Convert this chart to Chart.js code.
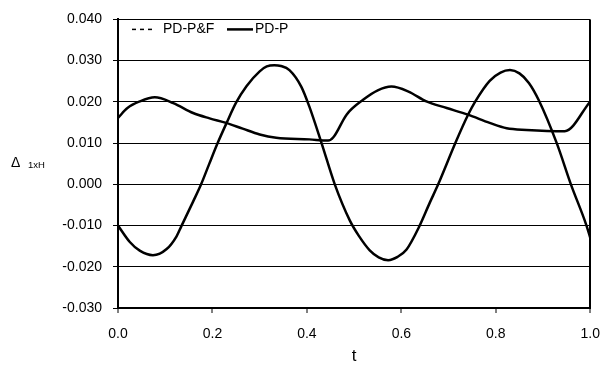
<!DOCTYPE html>
<html>
<head>
<meta charset="utf-8">
<script src="https://cdn.jsdelivr.net/npm/chart.js@4/dist/chart.umd.min.js"></script>
<style>
  html, body { margin: 0; padding: 0; background: #fff; }
  #wrap { position: relative; width: 613px; height: 370px; }
</style>
</head>
<body>
<div id="wrap"><canvas id="c" width="613" height="370"></canvas></div>
<script>
// ---- data ----
const legendLabels = ['PD-P&F', 'PD-P'];
const xTickLabels = ['0.0', '0.2', '0.4', '0.6', '0.8', '1.0'];
const yTickLabels = ['-0.030', '-0.020', '-0.010', '0.000', '0.010', '0.020', '0.030', '0.040'];

// Oscillating curve
const tA = [0.000, 0.025, 0.046, 0.074, 0.103, 0.124, 0.134, 0.159, 0.176, 0.193, 0.211, 0.230, 0.250, 0.272, 0.300, 0.315, 0.331, 0.345, 0.363, 0.388, 0.405, 0.431, 0.459, 0.491, 0.510, 0.533, 0.552, 0.572, 0.592, 0.611, 0.638, 0.660, 0.678, 0.715, 0.741, 0.756, 0.787, 0.810, 0.830, 0.850, 0.870, 0.891, 0.929, 0.959, 0.992, 1.000];
const vA = [-0.0100, -0.0140, -0.0161, -0.0172, -0.0157, -0.0126, -0.0102, -0.0042, 0.0000, 0.0049, 0.0100, 0.0149, 0.0198, 0.0238, 0.0274, 0.0286, 0.0289, 0.0287, 0.0277, 0.0237, 0.0189, 0.0100, 0.0000, -0.0088, -0.0125, -0.0160, -0.0177, -0.0184, -0.0176, -0.0158, -0.0102, -0.0045, 0.0000, 0.0102, 0.0168, 0.0200, 0.0251, 0.0271, 0.0277, 0.0269, 0.0246, 0.0204, 0.0100, 0.0000, -0.0100, -0.0130];

// Smoother curve
const tB = [0.000, 0.020, 0.046, 0.078, 0.117, 0.159, 0.194, 0.229, 0.264, 0.300, 0.335, 0.405, 0.445, 0.456, 0.484, 0.519, 0.550, 0.579, 0.615, 0.653, 0.696, 0.741, 0.787, 0.823, 0.865, 0.946, 1.000];
const vB = [0.0161, 0.0185, 0.0201, 0.0211, 0.0197, 0.0173, 0.0160, 0.0149, 0.0135, 0.0121, 0.0113, 0.0109, 0.0106, 0.0114, 0.0169, 0.0205, 0.0228, 0.0237, 0.0225, 0.0201, 0.0185, 0.0169, 0.0149, 0.0136, 0.0132, 0.0129, 0.0201];

const FONT = '"Liberation Sans", Arial, sans-serif';

const toPts = (xs, ys) => xs.map((x, i) => ({ x: x, y: ys[i] }));

// Legend drawn inside the plot area (top-left), plus y-axis title
const insideLegend = {
  id: 'insideLegend',
  afterDraw(chart) {
    const ctx = chart.ctx;
    const ca = chart.chartArea;
    ctx.save();
    ctx.font = '14px ' + FONT;
    ctx.fillStyle = '#000';
    ctx.strokeStyle = '#000';
    ctx.textBaseline = 'middle';
    const y = ca.top + 10;
    const lineStarts = [ca.left + 14, ca.left + 109];
    const dashes = [[4, 4], []];
    legendLabels.forEach((lab, i) => {
      const x = lineStarts[i];
      ctx.beginPath();
      ctx.lineWidth = i === 0 ? 1.5 : 2.5;
      ctx.setLineDash(dashes[i]);
      ctx.moveTo(x, y);
      ctx.lineTo(x + (i === 0 ? 24 : 26), y);
      ctx.stroke();
      ctx.setLineDash([]);
      ctx.fillText(lab, x + (i === 0 ? 31 : 28), y);
    });
    ctx.textBaseline = 'alphabetic';
    ctx.font = '14px ' + FONT;
    ctx.fillText('\u0394', 11, 167);
    ctx.font = '9.5px ' + FONT;
    ctx.fillText('1xH', 28, 168);
    ctx.restore();
  }
};

new Chart(document.getElementById('c'), {
  type: 'line',
  data: {
    datasets: [
      { label: legendLabels[0], data: toPts(tA, vA), borderColor: '#000', borderWidth: 2.5, pointRadius: 0, cubicInterpolationMode: 'monotone', fill: false },
      { label: legendLabels[1], data: toPts(tB, vB), borderColor: '#000', borderWidth: 2.5, pointRadius: 0, cubicInterpolationMode: 'monotone', fill: false }
    ]
  },
  options: {
    responsive: false,
    animation: false,
    devicePixelRatio: 1,
    layout: { padding: { left: 0, right: 21, top: 15, bottom: 0 } },
    plugins: { legend: { display: false }, tooltip: { enabled: false } },
    scales: {
      x: {
        type: 'linear', min: 0, max: 1,
        afterFit(s) { s.height = 62; },
        ticks: {
          stepSize: 0.2, color: '#000', padding: 13,
          font: { family: FONT, size: 14 },
          callback: (v) => xTickLabels[Math.round(v / 0.2)]
        },
        grid: {
          drawOnChartArea: true,
          color: (c) => (c.tick && Math.abs(c.tick.value - 1) < 1e-6) ? '#000' : 'rgba(0,0,0,0)',
          lineWidth: 2,
          tickColor: '#000', tickLength: 5, tickWidth: 1
        },
        border: { display: true, color: '#000', width: 2 },
        title: { display: true, text: 't', color: '#000', font: { family: FONT, size: 17 }, padding: { top: 0, bottom: 3 } }
      },
      y: {
        type: 'linear', min: -0.03, max: 0.04,
        afterFit(s) { s.width = 118; },
        ticks: {
          stepSize: 0.01, color: '#000', padding: 11,
          font: { family: FONT, size: 14 },
          callback: (v) => yTickLabels[Math.round((v + 0.03) / 0.01)]
        },
        grid: { color: '#000', lineWidth: 1, tickColor: '#000', tickLength: 5 },
        border: { display: true, color: '#000', width: 2 }
      }
    }
  },
  plugins: [insideLegend]
});
</script>
</body>
</html>
